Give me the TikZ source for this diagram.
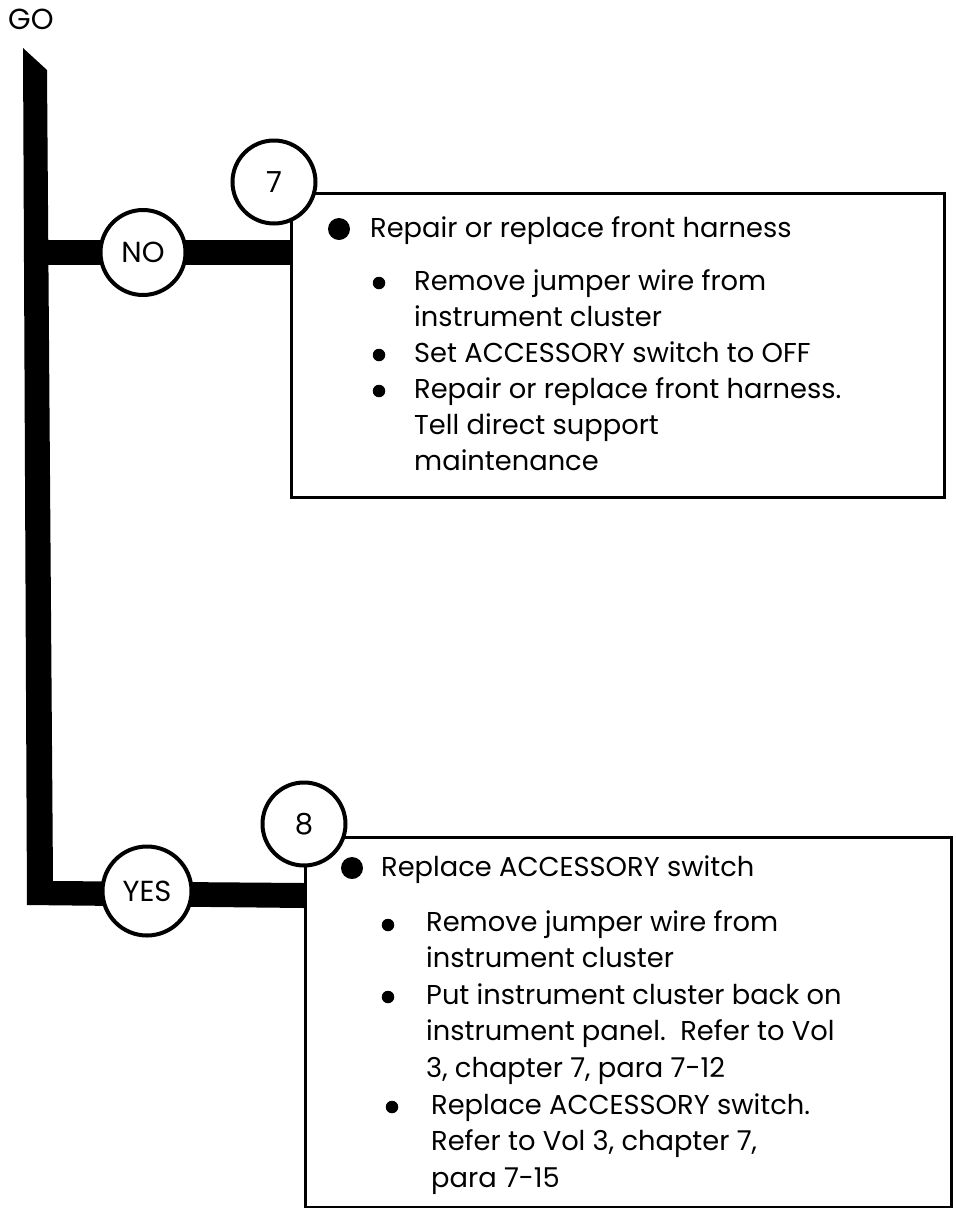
\documentclass[tikz,border=0pt]{standalone}
\usepackage{fontspec}
\setmainfont{Poppins}
\begin{document}
\begin{tikzpicture}[x=1pt,y=-1pt,
  circ/.style={circle, draw, line width=4pt, fill=white, minimum size=83pt, inner sep=0pt, font=\fontsize{29}{32}\selectfont},
  boxframe/.style={draw, line width=2.8pt, inner sep=0pt, anchor=north west},
  bar/.style={line width=25pt},
  bigdot/.style={circle, fill, minimum size=22pt, inner sep=0pt},
  smalldot/.style={circle, fill, minimum size=12.5pt, inner sep=0pt},
  txt/.style={anchor=base west, inner sep=0pt, font=\fontsize{27.3}{36}\selectfont}]
\useasboundingbox (0,0) rectangle (956,1208);
\fill[white] (0,0) rectangle (956,1208);
% label GO
\node[anchor=base west, inner sep=0pt, font=\fontsize{29}{32}\selectfont] (go) at (8,29) {GO};
% boxes
\node[boxframe, minimum width=653pt, minimum height=304pt] (b7) at (290,192) {};
\node[boxframe, minimum width=646pt, minimum height=370pt] (b8) at (304,836) {};
% trunk with YES branch
\coordinate (tl) at (23,48);
\coordinate (tr) at (47,70);
\fill (tl) -- (tr) -- (53,881) -- (b8.west |- 0,883) -- (b8.west |- 0,908) -- (27,905) -- cycle;
% NO branch
\coordinate (trk) at (40,252.5);
\draw[bar] (trk) -- (b7.west |- trk);
% circles
\node[circ, minimum size=85pt] (no) at (143,252.5) {NO};
\node[circ, minimum size=89pt] (yes) at (147,891) {YES};
\node[circ] (c7) at (274,182) {7};
\node[circ] (c8) at (304,824) {8};
% box 7 text
\node[bigdot] (d7) at (339,229) {};
\node[txt] (t7) at (370,237) {Repair or replace front harness};
\node[smalldot] (d7a) at (379,283) {};
\node[txt] (t7a) at (414,290) {Remove jumper wire from};
\node[txt] (t7b) at (414,326) {instrument cluster};
\node[smalldot] (d7c) at (379,355) {};
\node[txt] (t7c) at (414,362) {Set ACCESSORY switch to OFF};
\node[smalldot] (d7d) at (379,391) {};
\node[txt] (t7d) at (414,398) {Repair or replace front harness.};
\node[txt] (t7e) at (414,434) {Tell direct support};
\node[txt] (t7f) at (414,470) {maintenance};
% box 8 text
\node[bigdot] (d8) at (352,868) {};
\node[txt] (t8) at (381,876) {Replace ACCESSORY switch};
\node[smalldot] (d8a) at (388,925) {};
\node[txt] (t8a) at (426,931) {Remove jumper wire from};
\node[txt] (t8b) at (426,967.6) {instrument cluster};
\node[smalldot] (d8c) at (388,997) {};
\node[txt] (t8c) at (426,1004.2) {Put instrument cluster back on};
\node[txt] (t8d) at (426,1040.8) {instrument panel.\ \ Refer to Vol};
\node[txt] (t8e) at (426,1077.4) {3, chapter 7, para 7-12};
\node[smalldot] (d8f) at (392,1107) {};
\node[txt] (t8f) at (431,1114) {Replace ACCESSORY switch.};
\node[txt] (t8g) at (431,1150.6) {Refer to Vol 3, chapter 7,};
\node[txt] (t8h) at (431,1187.2) {para 7-15};
\end{tikzpicture}
\end{document}
